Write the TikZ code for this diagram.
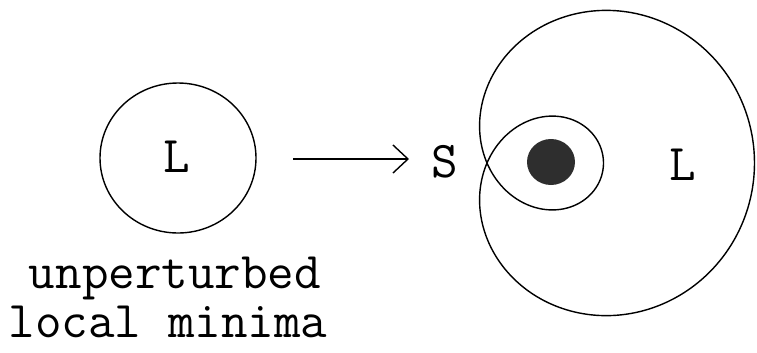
\documentclass[tikz,border=0pt]{standalone}
\usepackage{tikz}
\usetikzlibrary{positioning, calc, arrows.meta}

\tikzset{
    bigtext/.style={font=\fontsize{44}{48}\selectfont\ttfamily, inner sep=0pt},
    curve/.style={line width=1.2pt, black}
}

\begin{document}
\begin{tikzpicture}[x=0.03cm, y=-0.03cm]

    \useasboundingbox (0, 0) rectangle (757, 352);

    % ---------------------------------------------------
    % Unperturbed minimum
    % ---------------------------------------------------
    \draw[curve] (178, 158) ellipse [x radius=78, y radius=75];
    \node[bigtext, anchor=base] (leftL) at (177, 172) {L};

    \node[bigtext, anchor=base] (unpert) at (175, 288) {unperturbed};
    \node[bigtext, anchor=base] (locmin) at (168, 337) {local minima};

    % ---------------------------------------------------
    % Arrow
    % ---------------------------------------------------
    \coordinate (arrowtail) at (293, 159);
    \coordinate (arrowtip) at (409, 159);
    \draw[line width=1.6pt, -{Straight Barb[length=4.5mm, width=8.4mm, line width=1.2pt]}]
        (arrowtail) -- (arrowtip);

    \node[bigtext, anchor=base] (saddle) at (445, 177) {S};

    % ---------------------------------------------------
    % Perturbed: limacon with inner loop
    % ---------------------------------------------------
    \draw[curve] plot[domain=0:360, samples=240, smooth]
        ({487 + (75.5 + 192*cos(\x))*cos(\x)}, {163 + (75.5 + 192*cos(\x))*sin(\x)});

    \fill[black!82] (551, 162) ellipse [x radius=24, y radius=23];

    \node[bigtext, anchor=base] (rightL) at (683, 180) {L};

\end{tikzpicture}
\end{document}
